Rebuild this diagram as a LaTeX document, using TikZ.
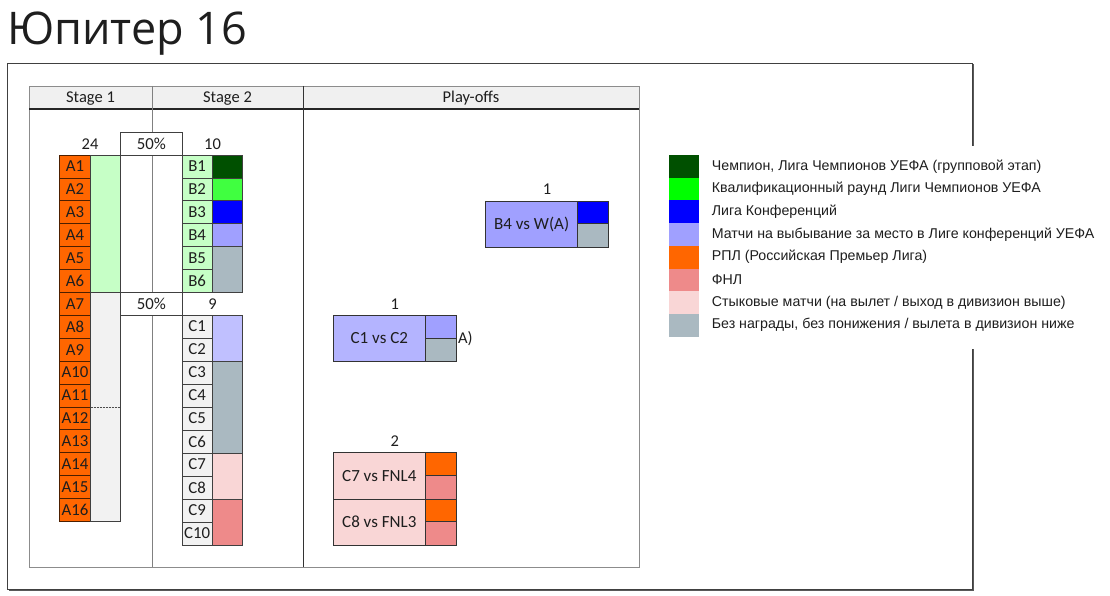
\documentclass[tikz,border=0pt]{standalone}
\usepackage{fontspec}
\setmainfont{Carlito}
\newfontfamily\legendfont{Liberation Sans}
\newfontfamily\titlefont{Open Sans}
\definecolor{cOrange}{HTML}{FF6600}
\definecolor{cLGreen}{HTML}{C6FFC6}
\definecolor{cLGray}{HTML}{F2F2F2}
\definecolor{cDGreen}{HTML}{005000}
\definecolor{cGreen}{HTML}{40FF40}
\definecolor{cGreenL}{HTML}{00FF00}
\definecolor{cBlue}{HTML}{0000FF}
\definecolor{cLav}{HTML}{A0A0FF}
\definecolor{cLLav}{HTML}{C0C0FF}
\definecolor{cLav2}{HTML}{B4B4FF}
\definecolor{cGrayBlue}{HTML}{AAB9C1}
\definecolor{cLPink}{HTML}{F9D6D6}
\definecolor{cPink}{HTML}{EE8A8A}
\definecolor{cHdr}{HTML}{F0F0F0}
\definecolor{cText}{HTML}{1E1E1E}
\newcommand{\cellbox}[7]{\node[#6, anchor=north west, minimum width={(#4)-(#2)}, minimum height={(#5)-(#3)}] (#1) at ({#2},{#3}) {#7};}
\tikzset{
  tbl/.style={inner sep=0pt, outer sep=0pt, draw=black!75, line width=0.7pt, font=\fontsize{16.8}{17}\selectfont, text=cText},
  plain/.style={inner sep=0pt, outer sep=0pt, font=\fontsize{16.5}{17}\selectfont, text=cText},
  po/.style={inner sep=0pt, outer sep=0pt, draw=black!80, line width=0.9pt, font=\fontsize{17}{17}\selectfont, text=cText},
  swatch/.style={inner sep=0pt, outer sep=0pt, minimum width=30, minimum height=22.7, anchor=north west},
  legtext/.style={inner sep=0pt, anchor=west, font=\legendfont\fontsize{14.2}{15}\selectfont, text=cText},
}
\begin{document}
\begin{tikzpicture}[x=1pt,y=-1pt]
\useasboundingbox (0,0) rectangle (1110,596);
% title
\node[anchor=base west, inner sep=0pt, font=\titlefont\fontsize{45}{45}\selectfont, text=cText] (title) at (7,44.5) {Юпитер 16};
% outer frame with shadow
\draw[line width=1.6pt, black!65] (973.5,64.5) -- (973.5,590.5) -- (8.5,590.5);
\draw[line width=0.8pt, black!75] (7,63) rectangle (972,589);
% table
\fill[cHdr] (29,86) rectangle (639,109);
\coordinate (tl) at (29,86);
\coordinate (br) at (639,567);
\draw[line width=0.8pt, black!45] (tl) rectangle (br);
\draw[line width=1.2pt, black!85] (29,109) -- (639,109);
\draw[line width=0.8pt, black!50] (152,86) -- (152,567);
\draw[line width=0.9pt, black!80] (303,86) -- (303,567);
\node[plain] (h1) at (90.5,98.5) {Stage 1};
\node[plain] (h2) at (227.5,98.5) {Stage 2};
\node[plain] (h3) at (471,98.5) {Play-offs};
% stage 1
\foreach \i in {1,...,16}{
  \cellbox{A\i}{59.3}{155+(\i-1)*22.9}{90.7}{155+\i*22.9}{tbl, fill=cOrange, draw=black!70!cOrange}{A\i}
}
\cellbox{g1}{90.7}{155}{120.7}{292.4}{tbl, fill=cLGreen}{}
\cellbox{g2}{90.7}{292.4}{120.7}{521.4}{tbl, fill=cLGray}{}
\draw[densely dotted, line width=0.5pt, black!70] (90.7,407) -- (120.7,407);
\node[plain] (n24) at (90,144) {24};
% 50% boxes
\cellbox{p1}{120.7}{132}{182}{155}{tbl, fill=white}{50\%}
\cellbox{p1b}{120.7}{155}{182}{292.4}{tbl}{}
\cellbox{p2}{120.7}{292.4}{182}{315}{tbl, fill=white}{50\%}
% stage 2 B
\foreach \i in {1,...,6}{
  \cellbox{B\i}{182}{155+(\i-1)*22.9}{212.3}{155+\i*22.9}{tbl, fill=cLGreen}{B\i}
}
\cellbox{b1c}{212.3}{155}{242.7}{177.9}{tbl, fill=cDGreen}{}
\cellbox{b2c}{212.3}{177.9}{242.7}{200.8}{tbl, fill=cGreen}{}
\cellbox{b3c}{212.3}{200.8}{242.7}{223.7}{tbl, fill=cBlue}{}
\cellbox{b4c}{212.3}{223.7}{242.7}{246.6}{tbl, fill=cLav}{}
\cellbox{b56c}{212.3}{246.6}{242.7}{292.4}{tbl, fill=cGrayBlue}{}
\node[plain] (n10) at (212.5,144) {10};
\node[plain] (n9) at (212.5,304) {9};
% stage 2 C
\foreach \i in {1,...,10}{
  \cellbox{C\i}{182}{315+(\i-1)*23}{212.3}{315+\i*23}{tbl, fill=cLGray}{C\i}
}
\cellbox{c12}{212.3}{315}{242.7}{361}{tbl, fill=cLLav}{}
\cellbox{c36}{212.3}{361}{242.7}{453}{tbl, fill=cGrayBlue}{}
\cellbox{c78}{212.3}{453}{242.7}{499}{tbl, fill=cLPink}{}
\cellbox{c910}{212.3}{499}{242.7}{545}{tbl, fill=cPink}{}
% play-offs
\cellbox{m1}{485.7}{201}{577.7}{247.3}{po, fill=cLav}{B4 vs W(A)}
\cellbox{m1a}{577.7}{201}{608.3}{223.3}{po, fill=cBlue}{}
\cellbox{m1b}{577.7}{223.3}{608.3}{247.3}{po, fill=cGrayBlue}{}
\node[plain] (k1) at (547,189.5) {1};
\cellbox{m2}{333.3}{315}{425.3}{361.7}{po, fill=cLav2}{C1 vs C2}
\cellbox{m2a}{425.3}{315}{456}{338.3}{po, fill=cLav}{}
\cellbox{m2b}{425.3}{338.3}{456}{361.7}{po, fill=cGrayBlue}{}
\node[plain] (k2) at (394.7,304.5) {1};
\node[plain, anchor=west] (aa) at (458,339) {A)};
\cellbox{m3}{333.3}{452.7}{425.3}{499.3}{po, fill=cLPink}{C7 vs FNL4}
\cellbox{m4}{333.3}{499.3}{425.3}{545}{po, fill=cLPink}{C8 vs FNL3}
\cellbox{m3a}{425.3}{452.7}{456}{475.7}{po, fill=cOrange}{}
\cellbox{m3b}{425.3}{475.7}{456}{499.3}{po, fill=cPink}{}
\cellbox{m4a}{425.3}{499.3}{456}{521.7}{po, fill=cOrange}{}
\cellbox{m4b}{425.3}{521.7}{456}{545}{po, fill=cPink}{}
\node[plain] (k3) at (394.7,441.5) {2};
% legend
\fill[white] (660,146) rectangle (1108,348.5);
\foreach \c/\t [count=\k] in {cDGreen/{Чемпион, Лига Чемпионов УЕФА (групповой этап)},
  cGreenL/{Квалификационный раунд Лиги Чемпионов УЕФА},
  cBlue/{Лига Конференций},
  cLav/{Матчи на выбывание за место в Лиге конференций УЕФА},
  cOrange/{РПЛ (Российская Премьер Лига)},
  cPink/{ФНЛ},
  cLPink/{Стыковые матчи (на вылет / выход в дивизион выше)},
  cGrayBlue/{Без награды, без понижения / вылета в дивизион ниже}}{
  \node[swatch, fill=\c] (L\k) at (669.3,{155+(\k-1)*22.7}) {};
  \node[legtext] (T\k) at (711.7,{155+(\k-0.5)*22.7}) {\t};
}
\end{tikzpicture}
\end{document}
